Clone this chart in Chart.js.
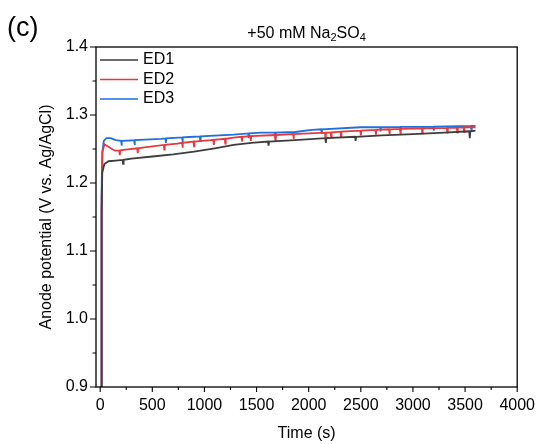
<!DOCTYPE html>
<html>
<head>
<meta charset="utf-8">
<title>Anode potential</title>
<script src="https://cdn.jsdelivr.net/npm/chart.js@4/dist/chart.umd.min.js"></script>
<style>
  body { margin: 0; background: #fff; }
  #wrap { width: 544px; height: 444px; }
</style>
</head>
<body>
<div id="wrap"><canvas id="myChart" width="544" height="444"></canvas></div>
<script>
// series names and colours
const seriesNames = ['ED1', 'ED2', 'ED3'];
const seriesColors = ['#3d3d3d', '#e8383d', '#1f6fdc'];

// [time (s), potential (V)], dips included
const ed1 = [[0,0.87],[8,0.9],[14,1.15],[20,1.215],[40,1.228],[80,1.232],[150,1.233],[215,1.234],[220,1.228],[225,1.234],
  [300,1.236],[500,1.239],[700,1.242],[900,1.246],[1100,1.251],[1280,1.256],[1450,1.259],[1610,1.261],[1615,1.255],[1620,1.261],
  [1870,1.263],[2160,1.266],[2165,1.259],[2170,1.266],[2445,1.268],[2450,1.262],[2455,1.268],[2700,1.27],[3000,1.272],[3300,1.274],
  [3540,1.276],[3545,1.266],[3550,1.276],[3600,1.277]];

const ed2 = [[0,0.87],[8,0.9],[14,1.17],[22,1.245],[40,1.257],[70,1.254],[140,1.2475],[184,1.248],[188,1.241],[192,1.248],
  [265,1.2495],[356,1.251],[360,1.244],[364,1.251],[425,1.2525],[611,1.256],[615,1.249],[619,1.256],[740,1.258],
  [786,1.259],[790,1.252],[794,1.259],[896,1.261],[900,1.254],[904,1.261],[1060,1.263],[1086,1.2635],[1090,1.256],[1094,1.2635],
  [1196,1.265],[1200,1.258],[1204,1.265],[1280,1.2667],[1356,1.268],[1360,1.261],[1364,1.268],[1441,1.269],[1445,1.262],[1449,1.269],
  [1676,1.2705],[1680,1.263],[1684,1.2705],[1851,1.272],[1855,1.265],[1859,1.272],[2156,1.274],[2160,1.267],[2164,1.274],
  [2211,1.2745],[2215,1.267],[2219,1.2745],[2306,1.2755],[2310,1.268],[2314,1.2755],[2496,1.277],[2500,1.27],[2504,1.277],
  [2641,1.278],[2645,1.271],[2649,1.278],[2771,1.279],[2775,1.272],[2779,1.279],[2876,1.2795],[2880,1.272],[2884,1.2795],
  [3086,1.2805],[3090,1.273],[3094,1.2805],[3326,1.281],[3330,1.274],[3334,1.281],[3421,1.2815],[3425,1.274],[3429,1.2815],
  [3486,1.282],[3490,1.275],[3494,1.282],[3600,1.282]];

const ed3 = [[0,0.87],[8,0.9],[13,1.18],[20,1.245],[35,1.262],[60,1.266],[100,1.266],[150,1.263],[201,1.262],[205,1.255],[209,1.262],
  [280,1.2625],[326,1.263],[330,1.256],[334,1.263],[585,1.265],[626,1.2655],[630,1.259],[634,1.2655],[786,1.267],[790,1.26],[794,1.267],
  [900,1.268],[956,1.2685],[960,1.262],[964,1.2685],[1280,1.271],[1421,1.273],[1425,1.266],[1429,1.273],[1550,1.274],
  [1676,1.274],[1680,1.268],[1684,1.274],[1870,1.275],[2030,1.278],[2121,1.279],[2125,1.272],[2129,1.279],[2500,1.282],
  [2686,1.282],[2690,1.276],[2694,1.282],[2876,1.2825],[2880,1.276],[2884,1.2825],[3196,1.283],[3200,1.277],[3204,1.283],
  [3556,1.284],[3560,1.278],[3564,1.284],[3600,1.284]];

const seriesData = [ed1, ed2, ed3];

// axis ticks
const xTicks = [0, 500, 1000, 1500, 2000, 2500, 3000, 3500, 4000];
const xMinorTicks = [250, 750, 1250, 1750, 2250, 2750, 3250, 3750];
const yTicks = [0.9, 1.0, 1.1, 1.2, 1.3, 1.4];
const yMinorTicks = [0.95, 1.05, 1.15, 1.25, 1.35];

const FONT = 'Arial, "Liberation Sans", sans-serif';
Chart.defaults.font.family = FONT;
Chart.defaults.color = '#000';

// frame, tick marks, legend, title and panel letter
const decor = {
  id: 'decor',
  afterDraw(chart) {
    const c = chart.ctx, a = chart.chartArea;
    const xs = chart.scales.x, ys = chart.scales.y;
    c.save();
    c.strokeStyle = '#000';
    c.lineWidth = 1.3;
    c.strokeRect(a.left, a.top, a.right - a.left, a.bottom - a.top);
    c.lineWidth = 1.1;
    c.beginPath();
    xTicks.forEach(v => { const p = xs.getPixelForValue(v); c.moveTo(p, a.bottom); c.lineTo(p, a.bottom + 5); });
    xMinorTicks.forEach(v => { const p = xs.getPixelForValue(v); c.moveTo(p, a.bottom); c.lineTo(p, a.bottom + 3); });
    yTicks.forEach(v => { const p = ys.getPixelForValue(v); c.moveTo(a.left, p); c.lineTo(a.left - 6, p); });
    yMinorTicks.forEach(v => { const p = ys.getPixelForValue(v); c.moveTo(a.left, p); c.lineTo(a.left - 3.5, p); });
    c.stroke();

    // legend
    c.font = '16px ' + FONT;
    c.textBaseline = 'middle';
    c.textAlign = 'left';
    seriesNames.forEach((n, i) => {
      const y = a.top + 13 + i * 19.5;
      c.strokeStyle = seriesColors[i];
      c.lineWidth = 1.5;
      c.beginPath(); c.moveTo(a.left + 4, y); c.lineTo(a.left + 42, y); c.stroke();
      c.fillStyle = '#000';
      c.fillText(n, a.left + 47, y);
    });

    // title with subscripts
    const parts = [['+50 mM Na', 0], ['2', 1], ['SO', 0], ['4', 1]];
    const big = '16px ' + FONT, small = '11px ' + FONT;
    let w = 0;
    parts.forEach(p => { c.font = p[1] ? small : big; w += c.measureText(p[0]).width; });
    let x = (a.left + a.right) / 2 - w / 2;
    const base = 38;
    c.textBaseline = 'alphabetic';
    parts.forEach(p => {
      c.font = p[1] ? small : big;
      c.fillText(p[0], x, p[1] ? base + 3 : base);
      x += c.measureText(p[0]).width;
    });

    c.font = '27px ' + FONT;
    c.fillText('(c)', 7, 36);
    c.restore();
  }
};

const ctx = document.getElementById('myChart').getContext('2d');
const myChart = new Chart(ctx, {
  type: 'line',
  data: {
    datasets: seriesData.map((d, i) => ({
      label: seriesNames[i],
      data: d.map(p => ({ x: p[0], y: p[1] })),
      borderColor: seriesColors[i],
      borderWidth: 1.8,
      pointRadius: 0,
      tension: 0,
      fill: false
    }))
  },
  options: {
    responsive: false,
    animation: false,
    layout: { padding: { left: 33, right: 23, top: 47, bottom: 0 } },
    plugins: { legend: { display: false }, tooltip: { enabled: false } },
    scales: {
      x: {
        type: 'linear',
        min: -40, max: 4000,
        afterFit: s => { s.height = 57; },
        afterBuildTicks: s => { s.ticks = xTicks.map(v => ({ value: v })); },
        grid: { display: false, drawTicks: false },
        border: { display: false },
        ticks: { font: { size: 16 }, padding: 9, maxRotation: 0, autoSkip: false, callback: v => String(v) },
        title: { display: true, text: 'Time (s)', font: { size: 16 }, padding: { top: 0, bottom: 1 } }
      },
      y: {
        min: 0.9, max: 1.4,
        afterFit: s => { s.width = 63; },
        afterBuildTicks: s => { s.ticks = yTicks.map(v => ({ value: v })); },
        grid: { display: false, drawTicks: false },
        border: { display: false },
        ticks: { font: { size: 16 }, padding: 8, autoSkip: false, callback: v => v.toFixed(1) },
        title: { display: true, text: 'Anode potential (V vs. Ag/AgCl)', font: { size: 16 }, padding: { top: 4, bottom: 0 } }
      }
    }
  },
  plugins: [decor]
});
</script>
</body>
</html>
